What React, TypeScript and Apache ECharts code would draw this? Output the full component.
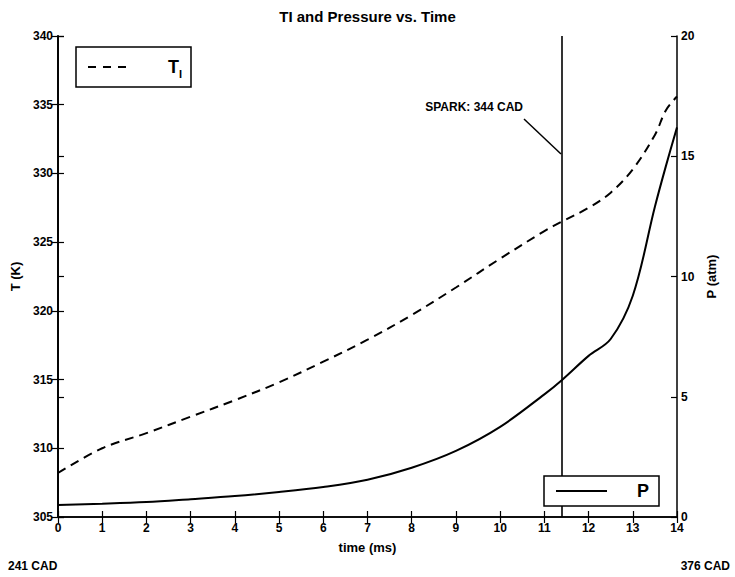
import React, { useEffect, useRef } from "react";
import * as echarts from "echarts";

// ---- data ----
const timeMs = [0, 1, 2, 3, 4, 5, 6, 7, 8, 9, 10, 11, 11.4, 12, 12.5, 13, 13.5, 13.75, 14];
const tempK = [308.2, 310.0, 311.1, 312.3, 313.5, 314.8, 316.3, 317.9, 319.7, 321.7, 323.8, 325.8, 326.5, 327.5, 328.6, 330.3, 332.8, 334.6, 335.6];
const pressureAtm = [0.5, 0.55, 0.62, 0.74, 0.87, 1.04, 1.25, 1.55, 2.05, 2.75, 3.75, 5.1, 5.7, 6.7, 7.4, 9.2, 12.9, 14.6, 16.2];
const sparkTime = [11.4];
const sparkLabel = "SPARK: 344 CAD";
const titleText = "TI and Pressure vs. Time";
const startLabel = "241 CAD";
const endLabel = "376 CAD";

const FONT = "'Liberation Sans Narrow', 'Liberation Sans', Arial, sans-serif";
const axisLabelStyle = { color: "#000", fontSize: 12, fontWeight: "bold" as const, fontFamily: FONT };
const nameStyle = { color: "#000", fontSize: 13, fontWeight: "bold" as const, fontFamily: FONT };
const lineCol = "#000";

export default function App() {
  const ref = useRef<HTMLDivElement>(null);
  useEffect(() => {
    if (!ref.current) return;
    const chart = echarts.init(ref.current, undefined, { renderer: "svg" });
    const tData = timeMs.map((t, i) => [t, tempK[i]]);
    const pData = timeMs.map((t, i) => [t, pressureAtm[i]]);
    const axisLine = { show: true, lineStyle: { color: lineCol, width: 1.5 } };
    const tick = { show: true, inside: true, length: 6, lineStyle: { color: lineCol, width: 1.2 } };
    chart.setOption({
      animation: false,
      backgroundColor: "#fff",
      title: {
        text: titleText,
        left: "center",
        top: 4,
        textStyle: { color: "#000", fontSize: 15, fontWeight: "bold", fontFamily: FONT },
      },
      grid: { left: 58, right: 58, top: 36, bottom: 60, outerBoundsMode: "none" },
      xAxis: [
        {
          type: "value", position: "bottom", min: 0, max: 14, interval: 1,
          axisLine, axisTick: tick, splitLine: { show: false },
          axisLabel: { ...axisLabelStyle, margin: 5 },
          name: "time (ms)", nameLocation: "middle", nameGap: 24, nameTextStyle: nameStyle,
        },
        {
          type: "value", position: "top", min: 0, max: 14, interval: 1,
          axisLine, axisTick: tick, splitLine: { show: false }, axisLabel: { show: false },
        },
      ],
      yAxis: [
        {
          type: "value", position: "left", min: 305, max: 340, interval: 5,
          axisLine, axisTick: tick, splitLine: { show: false },
          axisLabel: { ...axisLabelStyle, margin: 5 },
          name: "T (K)", nameLocation: "middle", nameGap: 31, nameTextStyle: nameStyle,
        },
        {
          type: "value", position: "right", min: 305, max: 340, interval: 5,
          axisLine, axisTick: tick, splitLine: { show: false }, axisLabel: { show: false },
        },
        {
          type: "value", position: "right", min: 0, max: 20, interval: 5,
          axisLine, axisTick: tick, splitLine: { show: false },
          axisLabel: { ...axisLabelStyle, margin: 4 },
          name: "P (atm)", nameLocation: "middle", nameGap: 26, nameTextStyle: nameStyle,
        },
        {
          type: "value", position: "left", min: 0, max: 20, interval: 5,
          axisLine, axisTick: tick, splitLine: { show: false }, axisLabel: { show: false },
        },
      ],
      series: [
        {
          name: "T_I", type: "line", xAxisIndex: 0, yAxisIndex: 0, data: tData,
          showSymbol: false, smooth: 0.35,
          lineStyle: { color: lineCol, width: 2, type: [9, 6] },
          z: 3,
        },
        {
          name: "P", type: "line", xAxisIndex: 0, yAxisIndex: 2, data: pData,
          showSymbol: false, smooth: 0.35,
          lineStyle: { color: lineCol, width: 2, type: "solid" },
          z: 3,
          markLine: {
            silent: true, symbol: "none", animation: false,
            label: { show: false },
            lineStyle: { color: lineCol, width: 1.6, type: "solid" },
            data: sparkTime.map((t) => ({ xAxis: t })),
          },
        },
      ],
      graphic: [
        // top-left legend
        { type: "rect", z: 100, shape: { x: 76, y: 47, width: 115, height: 40 }, style: { fill: "#fff", stroke: "#000", lineWidth: 1.5 } },
        { type: "line", z: 101, shape: { x1: 88, y1: 67, x2: 131, y2: 67 }, style: { stroke: "#000", lineWidth: 2, lineDash: [8, 7] } },
        { type: "text", z: 101, x: 168, y: 67, style: { text: "T", fill: "#000", font: `bold 18px ${FONT}`, verticalAlign: "middle", align: "left" } },
        { type: "text", z: 101, x: 179, y: 74, style: { text: "I", fill: "#000", font: `bold 11px ${FONT}`, verticalAlign: "middle", align: "left" } },
        // bottom-right legend
        { type: "rect", z: 100, shape: { x: 544, y: 476, width: 115, height: 30 }, style: { fill: "#fff", stroke: "#000", lineWidth: 1.5 } },
        { type: "line", z: 101, shape: { x1: 556, y1: 491, x2: 607, y2: 491 }, style: { stroke: "#000", lineWidth: 2 } },
        { type: "text", z: 101, x: 643, y: 491, style: { text: "P", fill: "#000", font: `bold 18px ${FONT}`, verticalAlign: "middle", align: "center" } },
        // spark annotation
        { type: "text", z: 101, x: 523, y: 107, style: { text: sparkLabel, fill: "#000", font: `bold 12px ${FONT}`, verticalAlign: "middle", align: "right" } },
        { type: "line", z: 101, shape: { x1: 524, y1: 119, x2: 561, y2: 154 }, style: { stroke: "#000", lineWidth: 1.5 } },
        // CAD labels
        { type: "text", z: 101, x: 8, y: 566, style: { text: startLabel, fill: "#000", font: `bold 12px ${FONT}`, verticalAlign: "middle", align: "left" } },
        { type: "text", z: 101, x: 730, y: 566, style: { text: endLabel, fill: "#000", font: `bold 12px ${FONT}`, verticalAlign: "middle", align: "right" } },
      ],
    });
    return () => chart.dispose();
  }, []);
  return (
    <div
      ref={ref}
      style={{ position: "fixed", left: 0, top: 0, width: 735, height: 577, background: "#fff" }}
    />
  );
}
